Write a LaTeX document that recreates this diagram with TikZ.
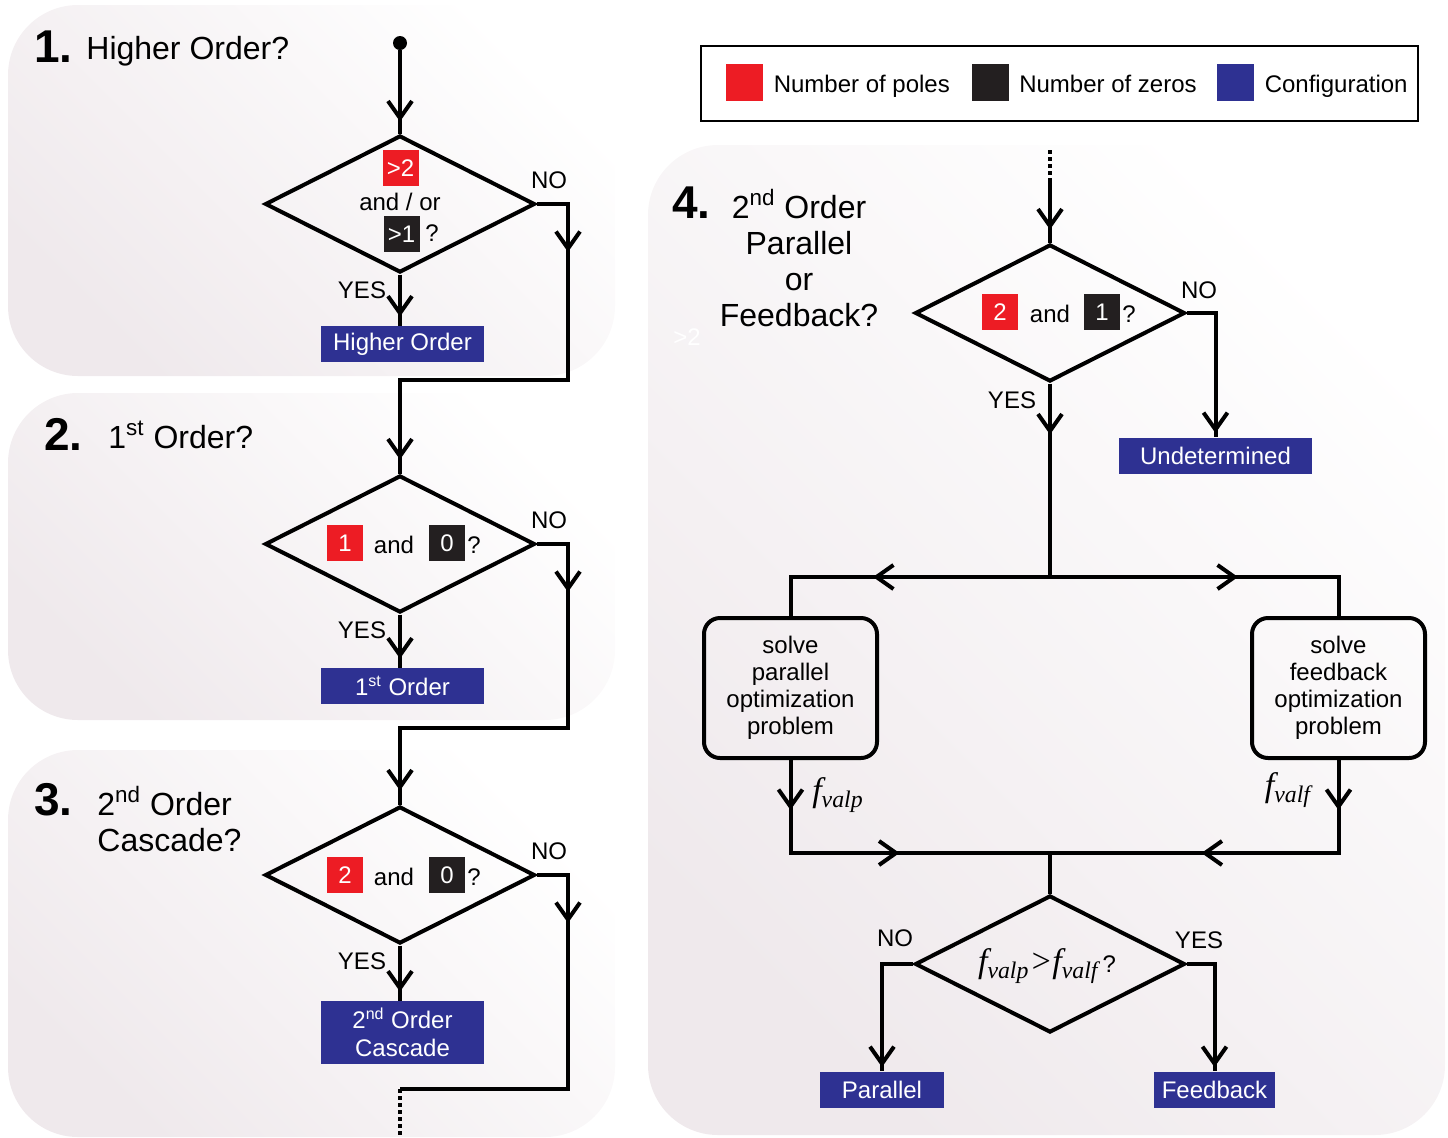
\documentclass[tikz,border=0pt]{standalone}
\usepackage{fontspec}
\setmainfont{Liberation Sans}
\newfontfamily\timesf{Liberation Serif}
\usetikzlibrary{positioning,shapes.geometric,arrows.meta,decorations.markings}

\definecolor{polered}{RGB}{237,28,36}
\definecolor{zeroblack}{RGB}{35,31,32}
\definecolor{cfgblue}{RGB}{46,49,146}
\definecolor{panelgray}{RGB}{239,233,236}

\tikzset{
  panel/.style={rounded corners=35pt, top color=white, bottom color=panelgray, shading angle=-45},
  flow/.style={line width=2pt},
  dots/.style={line width=2pt, dash pattern=on 2pt off 1.5pt},
  decision/.style={diamond, draw, line width=2pt, inner sep=0pt, minimum width=135pt, minimum height=68.5pt},
  poles/.style={fill=polered, text=white, inner sep=0pt, minimum width=18pt, minimum height=18pt},
  zeros/.style={fill=zeroblack, text=white, inner sep=0pt, minimum width=18pt, minimum height=18pt},
  config/.style={fill=cfgblue, text=white, inner sep=0pt, minimum width=81.5pt, minimum height=18pt, align=center},
  task/.style={draw, line width=2pt, rounded corners=8pt, minimum width=86.5pt, minimum height=70pt, align=center, inner sep=2pt, font=\fontsize{12}{13.5}\selectfont},
  title/.style={font=\fontsize{16}{18}\selectfont, inner sep=0pt},
  stepnum/.style={font=\fontsize{23}{26}\selectfont\bfseries, inner sep=0pt},
  key/.style={minimum size=18.5pt, inner sep=0pt},
  keytext/.style={inner sep=0pt, text height=8.7pt, text depth=2.6pt, yshift=-1.8pt},
  tipat/.style={postaction={decorate, decoration={markings, mark=at position #1 with {\arrow{>}}}}},
  tipsat/.style 2 args={postaction={decorate, decoration={markings, mark=at position #1 with {\arrow{>}}, mark=at position #2 with {\arrow{>}}}}},
}

\begin{document}
\begin{tikzpicture}[x=0.5pt, y=-0.5pt, font=\fontsize{12}{14}\selectfont, >={Straight Barb[length=8.5pt,width=12pt]}]
  \useasboundingbox (0,0) rectangle (1448,1137);

  % panels
  \path[panel] (8,5) rectangle (615,376);
  \path[panel] (8,393) rectangle (615,720);
  \path[panel] (8,750) rectangle (615,1137);
  \path[panel] (648,145) rectangle (1445,1135);

  % legend
  \node[draw, line width=0.75pt, minimum width=358.5pt, minimum height=37.5pt, inner sep=0pt] (legend) at (1059.5,83.5) {};
  \node[key, fill=polered] (kp) at (744.5,82.5) {};
  \node[keytext, right=5pt of kp] (tp) {Number of poles};
  \node[key, fill=zeroblack] (kz) at (990,82.5) {};
  \node[keytext, right=5pt of kz] (tz) {Number of zeros};
  \node[key, fill=cfgblue] (kc) at (1235.5,82.5) {};
  \node[keytext, right=5pt of kc] (tc) {Configuration};

  % 1. higher order
  \node[stepnum, anchor=base west] (n1) at (34,62) {1.};
  \node[title, anchor=base west] (t1) at (86,59) {Higher Order?};
  \node[circle, fill, inner sep=0pt, minimum size=7pt] (start) at (400,43) {};
  \node[decision] (d1) at (400,204) {};
  \node[poles] (p1) at (400.5,168) {>2};
  \node[inner sep=0pt] (a1) at (400,202) {and / or};
  \node[zeros] (z1) at (401.5,234) {>1};
  \node[inner sep=0pt] (q1) at (432,233) {?};
  \node[config] (hi) at (402.5,344) {Higher Order};
  \node (y1) at (362,290) {YES};
  \node (o1) at (549,180) {NO};

  % 2. first order
  \node[stepnum, anchor=base west] (n2) at (44,450) {2.};
  \node[title, anchor=base west] (t2) at (108,448) {1\textsuperscript{st} Order?};
  \node[decision] (d2) at (400,544) {};
  \node[poles] (p2) at (345,543) {1};
  \node[inner sep=0pt] (a2) at (394,545) {and};
  \node[zeros] (z2) at (447,543) {0};
  \node[inner sep=0pt] (q2) at (474,545) {?};
  \node[config] (fo) at (402.5,686) {1\textsuperscript{st} Order};
  \node (y2) at (362,630) {YES};
  \node (o2) at (549,520) {NO};

  % 3. second order cascade
  \node[stepnum, anchor=base west] (n3) at (34,815) {3.};
  \node[title, anchor=west, align=left] (t3) at (97,819) {2\textsuperscript{nd} Order\\Cascade?};
  \node[decision] (d3) at (400,875) {};
  \node[poles] (p3) at (345,875) {2};
  \node[inner sep=0pt] (a3) at (394,877) {and};
  \node[zeros] (z3) at (447,875) {0};
  \node[inner sep=0pt] (q3) at (474,877) {?};
  \node[config, minimum height=31.5pt] (so) at (402.5,1032.5) {2\textsuperscript{nd} Order\\Cascade};
  \node (y3) at (362,961) {YES};
  \node (o3) at (549,851) {NO};

  % 4. parallel or feedback
  \node[stepnum, anchor=base west] (n4) at (672,218) {4.};
  \node[title, align=center] (t4) at (799,258) {2\textsuperscript{nd} Order\\Parallel\\or\\Feedback?};
  \node[text=white] (ghost) at (687,337) {>2};
  \node[decision] (d4) at (1050,313) {};
  \node[poles] (p4) at (1000,312) {2};
  \node[inner sep=0pt] (a4) at (1050,314) {and};
  \node[zeros] (z4) at (1102,312) {1};
  \node[inner sep=0pt] (q4) at (1129,314) {?};
  \node (o4) at (1199,290) {NO};
  \node (y4) at (1012,400) {YES};
  \node[config, minimum width=96.5pt] (und) at (1215.5,455.5) {Undetermined};
  \node[task] (solp) at (790.5,688) {solve\\parallel\\optimization\\problem};
  \node[task] (solf) at (1338.5,688) {solve\\feedback\\optimization\\problem};
  \node (fp) at (838,795) {\timesf\itshape\fontsize{17}{20}\selectfont f\textsubscript{valp}};
  \node (ff) at (1288,790) {\timesf\itshape\fontsize{17}{20}\selectfont f\textsubscript{valf}};
  \node[decision] (d5) at (1050,964) {};
  \node (d5q) at (1047,966) {{\timesf\itshape\fontsize{17}{20}\selectfont f\textsubscript{valp}>f\textsubscript{valf}}\,?};
  \node (o5) at (895,938) {NO};
  \node (y5) at (1199,940) {YES};
  \node[config, minimum width=62pt] (par) at (882,1089.5) {Parallel};
  \node[config, minimum width=60.5pt] (fb) at (1214.5,1089.5) {Feedback};

  \coordinate (j12) at (400,380);
  \coordinate (j23) at (400,728);
  \coordinate (j34) at (400,1089);
  \coordinate (exit) at (400,1137);
  \coordinate (entry) at (1050,150);
  \coordinate (j4) at (1050,182);
  \coordinate (split) at (1050,577);
  \coordinate (merge) at (1050,853);

  % connectors, column 1
  \draw[flow, tipat=-6pt] (start) -- (d1.north);
  \draw[flow, tipat=-4.5pt] (d1.south) -- (d1.south |- hi.north);
  \draw[flow, tipsat={39.5pt}{-7pt}] (d1.east) -- ++(31,0) |- (j12) -- (d2.north);
  \draw[flow, tipat=-4.5pt] (d2.south) -- (d2.south |- fo.north);
  \draw[flow, tipsat={39.5pt}{-7pt}] (d2.east) -- ++(31,0) |- (j23) -- (d3.north);
  \draw[flow, tipat=-4.5pt] (d3.south) -- (d3.south |- so.north);
  \draw[flow, tipat=39.5pt] (d3.east) -- ++(31,0) |- (j34);
  \draw[dots] (j34) -- (exit);

  % connectors, column 2
  \draw[dots] (entry) -- (j4);
  \draw[flow, tipat=-6.5pt] (j4) -- (d4.north);
  \draw[flow, tipat=-2pt] (d4.east) -| (und.north);
  \draw[flow, tipat=25.5pt] (d4.south) -- (split);
  \draw[flow, tipat=88.5pt] (split) -| (solp.north);
  \draw[flow, tipat=94pt] (split) -| (solf.north);
  \draw[flow, tipsat={25pt}{101pt}] (solp.south) |- (merge);
  \draw[flow, tipsat={25pt}{115pt}] (solf.south) |- (merge);
  \draw[flow] (merge) -- (d5.north);
  \draw[flow, tipat=-2pt] (d5.west) -| (par.north);
  \draw[flow, tipat=-2pt] (d5.east) -| (fb.north);
\end{tikzpicture}
\end{document}
